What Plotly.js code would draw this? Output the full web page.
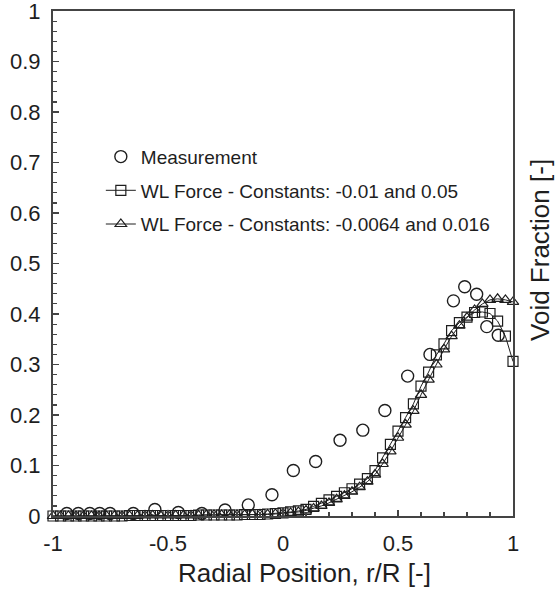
<!DOCTYPE html>
<html>
<head>
<meta charset="utf-8">
<script src="https://cdn.plot.ly/plotly-3.0.1.min.js"></script>
<style>html,body{margin:0;padding:0;background:#fff;}#chart{width:556px;height:597px;}</style>
</head>
<body>
<div id="chart"></div>
<script>
// Measurement data
const measX = [-0.94, -0.89, -0.84, -0.797, -0.752, -0.651, -0.557, -0.455, -0.353, -0.252, -0.151, -0.048, 0.045, 0.142, 0.248, 0.347, 0.443, 0.542, 0.639, 0.741, 0.79, 0.842, 0.886, 0.936];
const measY = [0.005, 0.005, 0.005, 0.005, 0.005, 0.005, 0.013, 0.007, 0.005, 0.012, 0.022, 0.042, 0.090, 0.108, 0.150, 0.170, 0.209, 0.277, 0.320, 0.426, 0.454, 0.439, 0.375, 0.358];

// Model grid (radial positions)
const modelX = [-1, -0.967, -0.933, -0.9, -0.867, -0.833, -0.8, -0.767, -0.733, -0.7, -0.667, -0.633, -0.6, -0.567, -0.533,
  -0.5, -0.467, -0.433, -0.4, -0.367, -0.333, -0.3, -0.267, -0.233, -0.2, -0.167, -0.133, -0.1, -0.067, -0.033,
  0, 0.033, 0.067, 0.1, 0.133, 0.167, 0.2, 0.233, 0.267, 0.3, 0.333, 0.367, 0.4, 0.433, 0.467,
  0.5, 0.533, 0.567, 0.6, 0.633, 0.667, 0.7, 0.733, 0.767, 0.8, 0.833, 0.867, 0.9, 0.933, 0.967, 1];

// WL Force - Constants: -0.01 and 0.05 (squares)
const wl1Y = [0, 0, 0, 0, 0, 0, 0, 0, 0, 0, 0.001, 0.001, 0.001, 0.001, 0.001,
  0.001, 0.001, 0.001, 0.001, 0.002, 0.002, 0.002, 0.002, 0.002, 0.002, 0.003, 0.003, 0.003, 0.004, 0.005,
  0.006, 0.008, 0.010, 0.013, 0.019, 0.025, 0.032, 0.039, 0.046, 0.054, 0.063, 0.074, 0.090, 0.115, 0.142,
  0.168, 0.195, 0.222, 0.257, 0.285, 0.319, 0.341, 0.367, 0.383, 0.394, 0.403, 0.404, 0.401, 0.386, 0.356, 0.306];

// WL Force - Constants: -0.0064 and 0.016 (triangles)
const wl2Y = [0, 0, 0, 0, 0, 0, 0, 0, 0, 0, 0, 0, 0.001, 0.001, 0.001,
  0.001, 0.001, 0.001, 0.001, 0.001, 0.002, 0.002, 0.002, 0.002, 0.002, 0.002, 0.003, 0.003, 0.003, 0.004,
  0.005, 0.006, 0.008, 0.011, 0.015, 0.020, 0.026, 0.033, 0.040, 0.048, 0.057, 0.068, 0.082, 0.103, 0.128,
  0.155, 0.181, 0.208, 0.240, 0.270, 0.300, 0.330, 0.356, 0.377, 0.393, 0.408, 0.420, 0.428, 0.430, 0.428, 0.424];

const names = ["Measurement", "WL Force - Constants: -0.01 and 0.05", "WL Force - Constants: -0.0064 and 0.016"];
const xTickVals = [-1, -0.5, 0, 0.5, 1];
const xTickText = ["-1", "-0.5", "0", "0.5", "1"];
const yTickVals = [0, 0.1, 0.2, 0.3, 0.4, 0.5, 0.6, 0.7, 0.8, 0.9, 1];
const yTickText = ["0", "0.1", "0.2", "0.3", "0.4", "0.5", "0.6", "0.7", "0.8", "0.9", "1"];

const ink = "#1e1e1e";
const FONT = "Liberation Sans, Arial, sans-serif";

const traces = [
  {
    x: measX, y: measY, name: names[0], type: "scatter", mode: "markers",
    legendgroup: "a", cliponaxis: false,
    marker: {symbol: "circle-open", size: 12, color: ink, line: {width: 1.4, color: ink}}
  },
  {
    x: modelX, y: wl1Y, name: names[1], type: "scatter", mode: "lines+markers",
    legendgroup: "b", cliponaxis: false,
    line: {color: ink, width: 1},
    marker: {symbol: "square-open", size: 10, color: ink, line: {width: 1.2, color: ink}}
  },
  {
    x: modelX, y: wl2Y, name: names[2], type: "scatter", mode: "lines+markers",
    legendgroup: "c", cliponaxis: false,
    line: {color: ink, width: 1},
    marker: {symbol: "triangle-up-open", size: 10, color: ink, line: {width: 1.2, color: ink}}
  }
];

const layout = {
  width: 556, height: 597,
  margin: {l: 53, r: 43, t: 11, b: 81, pad: 0},
  paper_bgcolor: "#fff", plot_bgcolor: "#fff",
  font: {family: FONT, color: ink},
  showlegend: true,
  legend: {
    x: 0.104, y: 0.749, xanchor: "left", yanchor: "top",
    bgcolor: "rgba(0,0,0,0)", borderwidth: 0,
    font: {family: FONT, size: 19, color: ink},
    traceorder: "grouped", tracegroupgap: 6
  },
  xaxis: {
    range: [-1, 1], tickvals: xTickVals, ticktext: xTickText,
    ticks: "inside", ticklen: 6, tickwidth: 1.5, tickcolor: "#444",
    minor: {dtick: 0.1, ticks: "inside", ticklen: 4, tickwidth: 1.2, tickcolor: "#444", showgrid: false},
    showline: true, linewidth: 2, linecolor: "#444", mirror: true,
    showgrid: false, zeroline: false, ticklabeloverflow: "allow",
    tickfont: {family: FONT, size: 22, color: ink}, ticklabelstandoff: 7
  },
  yaxis: {
    range: [0, 1], tickvals: yTickVals, ticktext: yTickText,
    ticks: "inside", ticklen: 6, tickwidth: 1.5, tickcolor: "#444",
    minor: {dtick: 0.02, ticks: "inside", ticklen: 4, tickwidth: 1.2, tickcolor: "#444", showgrid: false},
    showline: true, linewidth: 2, linecolor: "#444", mirror: true,
    showgrid: false, zeroline: false, ticklabeloverflow: "allow",
    tickfont: {family: FONT, size: 22, color: ink}, ticklabelstandoff: 6
  },
  annotations: [
    {
      text: "Radial Position, r/R [-]", xref: "paper", yref: "paper",
      x: 0.546, y: -0.112, xanchor: "center", yanchor: "middle", showarrow: false,
      font: {family: FONT, size: 26, color: ink}
    },
    {
      text: "Void Fraction [-]", xref: "paper", yref: "paper", textangle: -90,
      x: 1.06, y: 0.526, xanchor: "center", yanchor: "middle", showarrow: false,
      font: {family: FONT, size: 26, color: ink}
    }
  ]
};

Plotly.newPlot("chart", traces, layout, {displayModeBar: false, staticPlot: true});
</script>
</body>
</html>
